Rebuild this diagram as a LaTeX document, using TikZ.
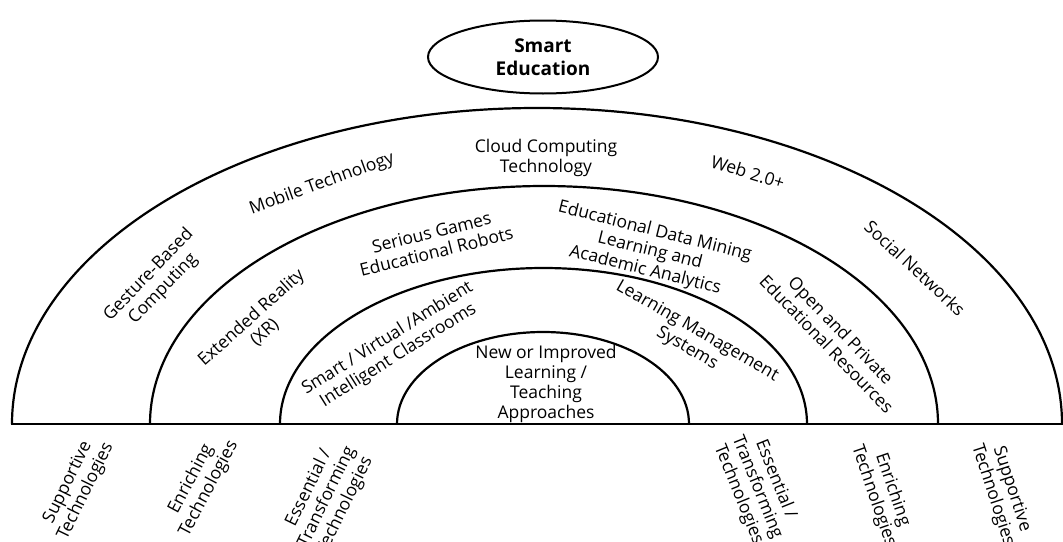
\documentclass[tikz,border=0pt]{standalone}
\usepackage{fontspec}
\setmainfont{Open Sans}
\usetikzlibrary{shapes.geometric}
\tikzstyle{ring}=[
    line width = 2.2pt
]
\tikzstyle{tech}=[
    align = center,
    inner sep = 0pt,
    font = \fontsize{17.5}{20}\selectfont
]

\begin{document}
\begin{tikzpicture}[x=1pt, y=1pt, base/.style = {line width=2.8pt}, goal/.style = {draw, ellipse, line width=2pt, inner sep=0pt, minimum width=230pt, minimum height=73pt, align=center, font=\bfseries\fontsize{19}{23}\selectfont}]
        \useasboundingbox (0,0) rectangle (1063,-541);

        \draw[ring] (12,-424) arc[start angle=180, end angle=0, x radius=525, y radius=316];
        \draw[ring] (150,-424) arc[start angle=180, end angle=0, x radius=394, y radius=238];
        \draw[ring] (280,-424) arc[start angle=180, end angle=0, x radius=263.5, y radius=156];
        \draw[ring] (397,-424) arc[start angle=180, end angle=0, x radius=146, y radius=92];
        \draw[base] (11,-424) -- (1063,-424);

        \node[goal] (smart) at (543,-57) {Smart\\Education};

        \node[tech] (cloud) at (546,-158) {Cloud Computing\\Technology};
        \node[tech, rotate=20] (mobile) at (322,-184) {Mobile Technology};
        \node[tech, rotate=-17] (web) at (748,-172) {Web 2.0+};
        \node[tech, rotate=46] (gesture) at (156,-282) {Gesture-Based\\Computing};
        \node[tech, rotate=-43] (social) at (915,-268) {Social Networks};

        \node[tech, rotate=42] (xr) at (258,-325) {Extended Reality\\(XR)};
        \node[tech, rotate=14] (games) at (434,-242) {Serious Games\\Educational Robots};
        \node[tech, rotate=-14] (analytics) at (650,-251) {Educational Data Mining\\Learning and\\Academic Analytics};
        \node[tech, rotate=-46] (oer) at (834,-337) {Open and Private\\Educational Resources};

        \node[tech, rotate=32] (classrooms) at (393,-347) {Smart / Virtual /Ambient\\Intelligent Classrooms};
        \node[tech, rotate=-30] (lms) at (692,-340) {Learning Management\\Systems};

        \node[tech] (approaches) at (546,-384) {New or Improved\\Learning /\\Teaching\\Approaches};

        \node[tech, rotate=64] (supL) at (77,-487) {Supportive\\Technologies};
        \node[tech, rotate=62] (enrL) at (200,-484) {Enriching\\Technologies};
        \node[tech, rotate=64] (essL) at (327,-497) {Essential /\\Transforming\\Technologies};
        \node[tech, rotate=-68] (essR) at (757,-487) {Essential /\\Transforming\\Technologies};
        \node[tech, rotate=-71] (enrR) at (883,-493) {Enriching\\Technologies};
        \node[tech, rotate=-72] (supR) at (1002,-492) {Supportive\\Technologies};

    \end{tikzpicture}
\end{document}
